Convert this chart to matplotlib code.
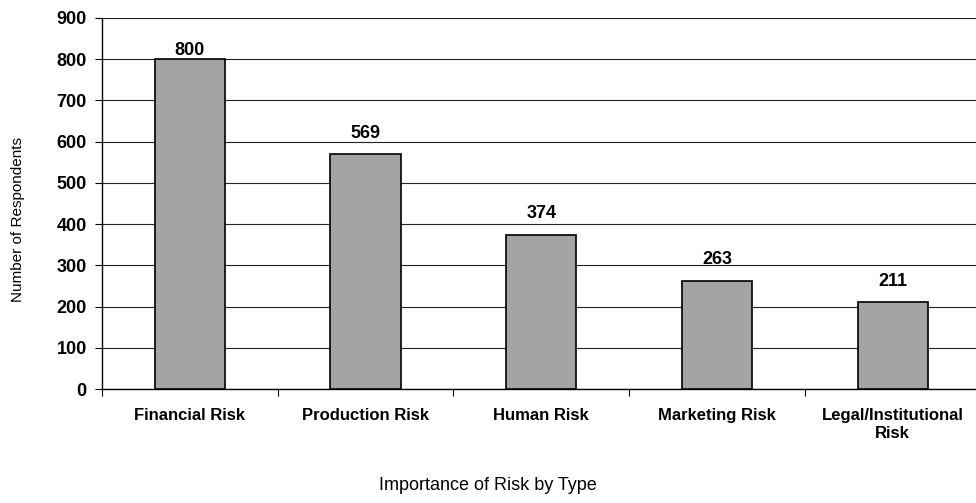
import matplotlib
matplotlib.use("Agg")
import matplotlib.pyplot as plt

categories = ["Financial Risk", "Production Risk", "Human Risk", "Marketing Risk", "Legal/Institutional\nRisk"]
values = [800, 569, 374, 263, 211]
label_pads = [0, 9, 9, 9, 9]
yticks = [0, 100, 200, 300, 400, 500, 600, 700, 800, 900]

plt.rcParams['font.family'] = ['Liberation Sans', 'DejaVu Sans']

fig = plt.figure(figsize=(9.76, 5.03), dpi=100)
ax = fig.add_axes([102/976, 114/503, 874/976, 371/503])

x = list(range(len(categories)))
ax.bar(x, values, width=0.40, color='#a4a4a4', edgecolor='black', linewidth=1.2, zorder=3)

for xi, v, p in zip(x, values, label_pads):
    ax.annotate(str(v), (xi, v), xytext=(0, p), textcoords='offset points',
                ha='center', va='bottom', fontsize=13, fontweight='bold', zorder=4)

ax.set_ylim(0, 900)
ax.set_xlim(-0.5, 4.474)
ax.set_yticks(yticks)
ax.set_yticklabels([str(t) for t in yticks], fontsize=13, fontweight='bold')
ax.yaxis.grid(True, color='#222222', linewidth=0.8, zorder=0)
ax.set_axisbelow(True)

ax.set_xticks([i - 0.5 for i in range(len(categories))], minor=False)
ax.set_xticklabels([])
ax.set_xticks(x, minor=True)
ax.set_xticklabels(categories, minor=True, fontsize=12, fontweight='bold')
ax.tick_params(axis='x', which='minor', length=0, pad=14)
ax.tick_params(axis='x', which='major', length=5, direction='out', width=0.8)
ax.tick_params(axis='y', length=5, direction='out', width=0.8, pad=6)

for s in ['top', 'right']:
    ax.spines[s].set_visible(False)
ax.spines['left'].set_linewidth(1.0)
ax.spines['bottom'].set_linewidth(1.0)

fig.text(18/976, 1 - 220/503, "Number of Respondents", rotation=90,
         ha='center', va='center', fontsize=11)
fig.text(0.5, 18/503, "Importance of Risk by Type", ha='center', va='center', fontsize=13)

fig.savefig("out.png", dpi=100)
